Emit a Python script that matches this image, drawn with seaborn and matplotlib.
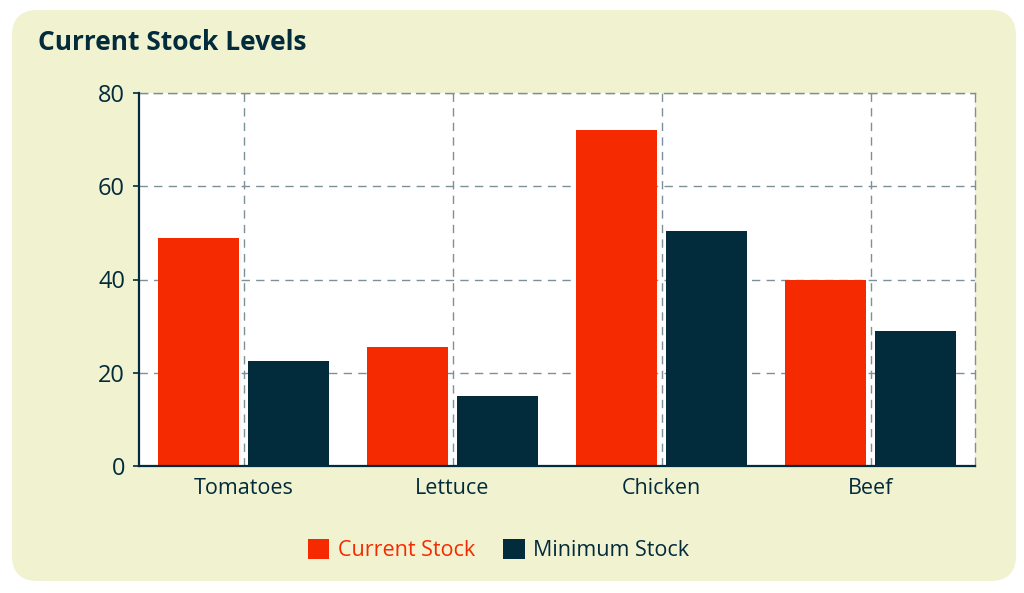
"""
Current stock vs minimum stock, grouped bar chart
"""
import matplotlib.pyplot as plt
from matplotlib.patches import FancyBboxPatch
import pandas as pd
import seaborn as sns

# values
items = ["Tomatoes", "Lettuce", "Chicken", "Beef"]
current_stock = [49, 25.5, 72, 40]
minimum_stock = [22.5, 15, 50.5, 29]
series = ["Current Stock", "Minimum Stock"]
y_ticks = [0, 20, 40, 60, 80]

RED = "#f52a00"
NAVY = "#022b3c"
PANEL = "#f1f2cf"
GRID = "#7d8f99"

df = pd.DataFrame({
    "item": items * 2,
    "stock": current_stock + minimum_stock,
    "series": [series[0]] * len(items) + [series[1]] * len(items),
})

sns.set_theme(style="white")
plt.rcParams["font.family"] = ["Open Sans", "DejaVu Sans"]

fig = plt.figure(figsize=(10.24, 5.93), dpi=100)
fig.patch.set_facecolor("white")

# rounded beige panel behind everything
panel = FancyBboxPatch((12 / 1024, 12 / 593), 1004 / 1024, 571 / 593,
                       boxstyle="round,pad=0,rounding_size=0.025",
                       transform=fig.transFigure, facecolor=PANEL,
                       edgecolor="none", zorder=-10, mutation_aspect=1024 / 593)
fig.patches.append(panel)

ax = fig.add_axes([139 / 1024, 127 / 593, 836 / 1024, 373 / 593])
ax.set_facecolor("white")

sns.barplot(data=df, x="item", y="stock", hue="series", order=items,
            hue_order=series, palette=[RED, NAVY], width=0.86, gap=0.1,
            linewidth=0, saturation=1, ax=ax, zorder=3)

ax.set_ylim(0, 80)
ax.set_yticks(y_ticks)
ax.set_xlim(-0.5, len(items) - 0.5)
ax.set_xlabel("")
ax.set_ylabel("")

ax.grid(True, axis="both", linestyle=(0, (6, 4.5)), color=GRID, lw=1, zorder=1)
ax.set_axisbelow(True)

for side in ["top", "right"]:
    ax.spines[side].set_visible(True)
    ax.spines[side].set_linestyle((0, (6, 4.5)))
    ax.spines[side].set_color(GRID)
    ax.spines[side].set_linewidth(1)
for side in ["left", "bottom"]:
    ax.spines[side].set_color(NAVY)
    ax.spines[side].set_linewidth(1.6)
    ax.spines[side].set_zorder(5)

ax.tick_params(axis="y", length=4, width=1.2, color=NAVY, labelsize=17,
               labelcolor=NAVY, pad=6, left=True)
ax.tick_params(axis="x", length=0, labelsize=15.5, labelcolor=NAVY, pad=9)

ax.get_legend().remove()
handles, labels = ax.get_legend_handles_labels()
leg = fig.legend(handles, labels, loc="center", bbox_to_anchor=(0.487, 0.072),
                 ncol=2, frameon=False, fontsize=15.5, handlelength=1.0,
                 handleheight=1.0, handletextpad=0.4, columnspacing=1.3)
for txt, col in zip(leg.get_texts(), [RED, NAVY]):
    txt.set_color(col)

fig.text(38 / 1024, 1 - 43 / 593, "Current Stock Levels", fontsize=19,
         fontweight="bold", color=NAVY, ha="left", va="center")

fig.savefig("out.png", dpi=100, facecolor=fig.get_facecolor())
